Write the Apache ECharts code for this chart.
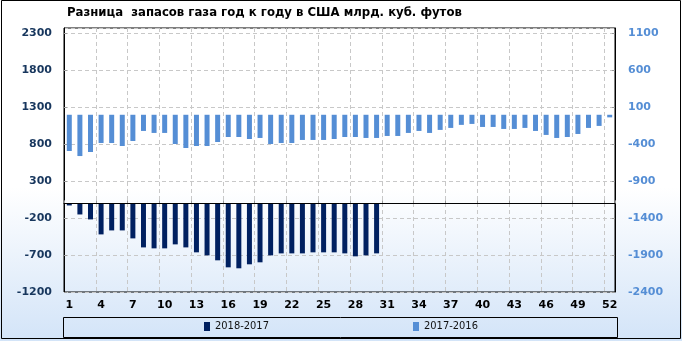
<!DOCTYPE html>
<html>
<head>
<meta charset="utf-8">
<script src="https://cdn.jsdelivr.net/npm/echarts@6/dist/echarts.min.js"></script>
<style>html,body{margin:0;padding:0;background:#fff}#c{width:682px;height:341px}</style>
</head>
<body>
<div id="c"></div>
<script>
var titleText = 'Разница  запасов газа год к году в США млрд. куб. футов';
var weeks = [];
for (var i = 1; i <= 52; i++) weeks.push(String(i));
var name1 = '2018-2017';
var name2 = '2017-2016';
var diff2018 = [-28,-150,-217,-420,-366,-366,-474,-596,-609,-609,-555,-596,-663,-704,-771,-866,-879,-825,-798,-704,-677,-677,-677,-663,-663,-663,-677,-717,-704,-677];
var diff2017 = [-491,-559,-504,-382,-382,-423,-355,-219,-246,-246,-396,-450,-423,-423,-369,-301,-301,-328,-314,-396,-382,-382,-341,-341,-341,-328,-301,-301,-314,-314,-287,-287,-246,-219,-246,-205,-178,-137,-124,-165,-165,-192,-192,-178,-219,-273,-314,-301,-260,-178,-151,-35];

var FONTC = 'DejaVu Sans Condensed';
var FONT = 'DejaVu Sans';
function plain(v){ return String(v); }
var chart = echarts.init(document.getElementById('c'), null, {renderer:'canvas'});
chart.setOption({
  animation: false,
  backgroundColor: {type:'linear', x:0, y:0, x2:0, y2:1, colorStops:[{offset:0,color:'#ffffff'},{offset:0.55,color:'#ffffff'},{offset:1,color:'#d3e4f8'}]},
  title: {text: titleText, left: 67, top: 6, padding: 0,
    textStyle: {fontFamily: FONTC, fontSize: 13, fontWeight: 'bold', color: '#000'}},
  graphic: [
    {type:'rect', shape:{x:1.5, y:0.5, width:679, height:338}, style:{fill:'none', stroke:'#000', lineWidth:1}, silent:true},
    {type:'rect', shape:{x:63.5, y:317.5, width:554, height:20}, style:{fill:'none', stroke:'#000', lineWidth:1}, silent:true}
  ],
  legend: [
    {data:[name1], left: 204, top: 321, padding: 0, itemWidth: 6, itemHeight: 9, icon:'rect',
      textStyle:{fontFamily: FONTC, fontSize: 11, color:'#111'}},
    {data:[name2], left: 413, top: 321, padding: 0, itemWidth: 6, itemHeight: 9, icon:'rect',
      textStyle:{fontFamily: FONTC, fontSize: 11, color:'#111'}}
  ],
  grid: {left: 64, right: 67, top: 28, bottom: 49, show: true, borderColor:'#000', borderWidth:1, containLabel:false},
  xAxis: {
    type:'category', data: weeks, boundaryGap: true,
    axisLine:{show:true, lineStyle:{color:'#000'}},
    axisTick:{show:true, inside:true, length:3, interval:2, lineStyle:{color:'#999'}},
    splitLine:{show:true, interval:2, lineStyle:{color:'#c8c8c8', type:[4,3]}},
    axisLabel:{interval:2, margin:8, fontFamily: FONT, fontSize:11, fontWeight:'bold', color:'#000'}
  },
  yAxis: [
    {type:'value', min:-1200, max:2375, interval:500, position:'left',
      axisLine:{show:true, lineStyle:{color:'#000'}},
      axisTick:{show:true, inside:true, length:3, lineStyle:{color:'#999'}},
      splitLine:{show:true, lineStyle:{color:'#c8c8c8', type:[4,3]}},
      axisLabel:{showMaxLabel:false, margin:12, formatter: plain, fontFamily: FONT, fontSize:11, fontWeight:'bold', color:'#17365d'}},
    {type:'value', min:-2400, max:1175, interval:500, position:'right',
      axisLine:{show:true, lineStyle:{color:'#000'}},
      axisTick:{show:true, inside:true, length:3, lineStyle:{color:'#999'}},
      splitLine:{show:false},
      axisLabel:{showMaxLabel:false, margin:13, formatter: plain, fontFamily: FONT, fontSize:11, fontWeight:'bold', color:'#558ed5'}}
  ],
  series: [
    {name:name2, type:'bar', yAxisIndex:1, data: diff2017, barWidth:5, barGap:'-100%',
      itemStyle:{color:'#558ed5'}},
    {name:name1, type:'bar', yAxisIndex:0, data: diff2018, barWidth:5, barGap:'-100%',
      itemStyle:{color:'#002060'},
      markLine:{silent:true, symbol:'none', label:{show:false}, lineStyle:{color:'#000', type:'solid', width:1},
        data:[{yAxis:0}]}}
  ]
});
</script>
</body>
</html>
